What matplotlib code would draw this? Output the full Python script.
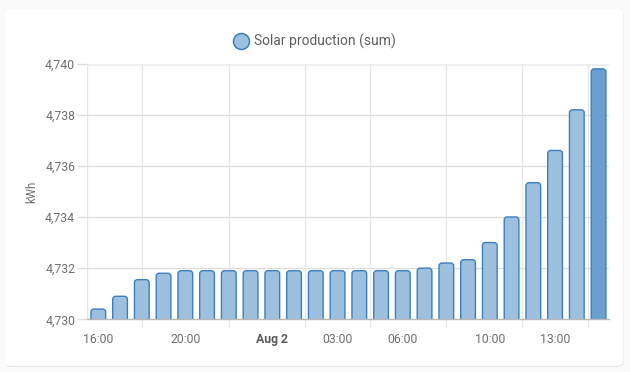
import matplotlib.pyplot as plt
from matplotlib.patches import FancyBboxPatch
from matplotlib.lines import Line2D

plt.rcParams['font.family'] = ['Roboto', 'DejaVu Sans']

# hourly sums, 16:00 -> 15:00 next day
hours = ['16:00', '17:00', '18:00', '19:00', '20:00', '21:00', '22:00', '23:00',
         '00:00', '01:00', '02:00', '03:00', '04:00', '05:00', '06:00', '07:00',
         '08:00', '09:00', '10:00', '11:00', '12:00', '13:00', '14:00', '15:00']
values = [4.7304, 4.7309, 4.73155, 4.7318, 4.7319, 4.7319, 4.7319, 4.7319,
          4.7319, 4.7319, 4.7319, 4.7319, 4.7319, 4.7319, 4.7319, 4.7320,
          4.7322, 4.73233, 4.7330, 4.7340, 4.73534, 4.7366, 4.73819, 4.73979]
label_idx = [0, 4, 8, 11, 14, 18, 21]
label_txt = ['16:00', '20:00', 'Aug 2', '03:00', '06:00', '10:00', '13:00']
yticks = [4.730, 4.732, 4.734, 4.736, 4.738, 4.740]

W, H = 630, 372
fig = plt.figure(figsize=(W / 100, H / 100), dpi=100, facecolor='#fafafa')

# card behind the chart
shadow = FancyBboxPatch((5.5 / W, 5 / H), 618 / W, 356 / H,
                        boxstyle='round,pad=0,rounding_size=0.012',
                        transform=fig.transFigure, facecolor='#e4e4e4',
                        edgecolor='none', zorder=-2)
card = FancyBboxPatch((5 / W, 6 / H), 618 / W, 357 / H,
                      boxstyle='round,pad=0,rounding_size=0.012',
                      transform=fig.transFigure, facecolor='white',
                      edgecolor='none', zorder=-1)
fig.patches.extend([shadow, card])

ax = fig.add_axes([87 / W, 1 - 319.3 / H, (609 - 87) / W, (319.3 - 63.5) / H])
ax.set_facecolor('none')
ax.set_zorder(1)

x = list(range(len(values)))
ax.set_xlim(-0.52, 23.48)
ax.set_ylim(4.730, 4.740)

base = 4.7298
bars = ax.bar(x, [v - base for v in values], bottom=base, width=0.676)

# swap plain rects for rounded ones
xpp = 24 / 522.0
ypp = 0.010 / 255.8
for i, r in enumerate(bars.patches):
    last = i == len(values) - 1
    fb = FancyBboxPatch((r.get_x(), r.get_y()), r.get_width(), r.get_height(),
                        boxstyle='round,pad=0,rounding_size=%f' % (3 * xpp),
                        mutation_aspect=ypp / xpp,
                        facecolor='#6a9fcf' if last else '#9dc0de',
                        edgecolor='#3b7fc0', linewidth=1.0, zorder=3,
                        clip_on=True)
    r.remove()
    ax.add_patch(fb)

# grid
for y in yticks[1:-1]:
    ax.axhline(y, color='#dcdcdc', lw=0.9, zorder=1)
ax.axhline(4.740, color='#efefef', lw=2, zorder=1)
mids = []
edges = label_idx + [24]
for a, b in zip(edges[:-1], edges[1:]):
    mids.append((a + b) / 2)
for m in mids:
    ax.axvline(m, color='#e6e6e6', lw=0.9, zorder=1)
ax.axvline(-0.52, color='#e6e6e6', lw=0.9, zorder=1)

for s in ['top', 'right', 'left']:
    ax.spines[s].set_visible(False)
ax.spines['bottom'].set_color('#b8b8b8')
ax.spines['bottom'].set_linewidth(1)
ax.spines['bottom'].set_zorder(4)

ax.set_yticks(yticks)
ax.set_yticklabels(['4,730', '4,732', '4,734', '4,736', '4,738', '4,740'])
ax.tick_params(axis='y', length=7.5, width=0.9, color='#dcdcdc', pad=1,
               labelsize=8.8, labelcolor='#6e6e6e')

ax.set_xticks(label_idx)
ax.set_xticklabels(label_txt)
ax.set_xticks(mids, minor=True)
ax.tick_params(axis='x', which='major', length=0, pad=10, labelsize=8.8,
               labelcolor='#6e6e6e')
ax.tick_params(axis='x', which='minor', length=6, width=0.9, color='#e6e6e6')
for t in ax.get_xticklabels():
    if t.get_text() == 'Aug 2':
        t.set_fontweight('bold')
        t.set_color('#5a5a5a')

ax.set_ylabel('kWh', fontsize=8.3, color='#6e6e6e', labelpad=5)

handle = Line2D([], [], marker='o', linestyle='none', markersize=11.5,
                markerfacecolor='#9dc0de', markeredgecolor='#3b7fc0',
                markeredgewidth=1.1)
fig.legend(handles=[handle], labels=['Solar production (sum)'], loc='center',
           bbox_to_anchor=(0.5, 1 - 41.3 / H), frameon=False, fontsize=10,
           labelcolor='#5f5f5f', handletextpad=0.5, handlelength=1.0)

fig.savefig('out.png', dpi=100, facecolor=fig.get_facecolor())
